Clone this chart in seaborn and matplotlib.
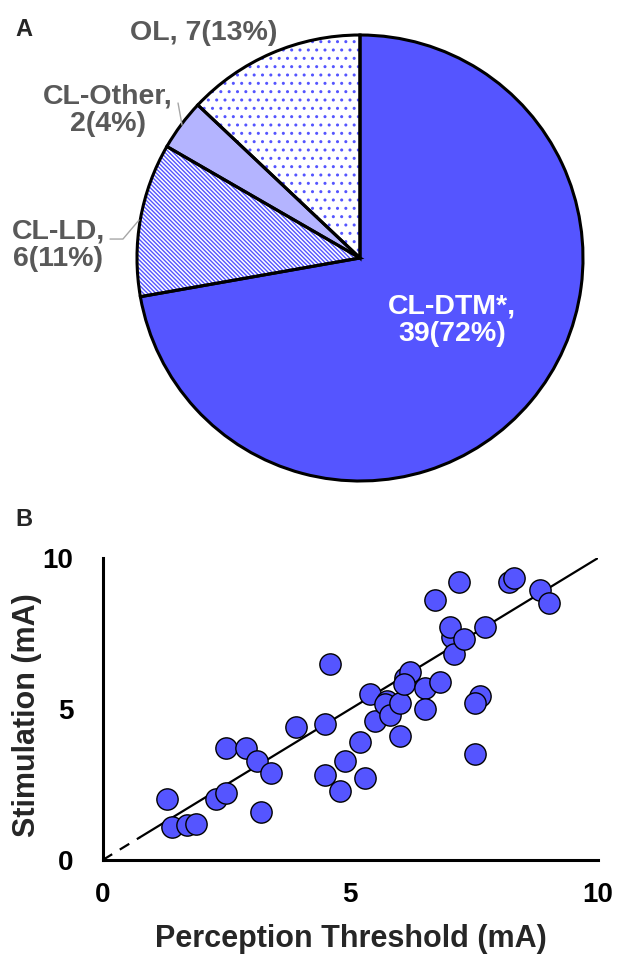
import matplotlib
matplotlib.use("Agg")

import pandas as pd
import matplotlib.pyplot as plt
import seaborn as sns

# ============================================================
# Data
# ============================================================

GROUPS = ["CL-DTM*", "CL-LD", "CL-Other", "OL"]
COUNTS = [39, 6, 2, 7]

PERCEPTION = [
    1.29, 1.39, 1.70, 1.88, 2.29, 2.49, 2.49, 2.89, 3.11, 3.19,
    3.40, 3.90, 4.49, 4.59, 4.49, 4.79, 4.89, 5.20, 5.30, 5.40,
    5.50, 5.75, 5.70, 5.80, 6.01, 6.01, 6.11, 6.21, 6.09, 6.50,
    6.51, 6.81, 6.71, 7.05, 7.02, 7.10, 7.20, 7.30, 7.71, 7.61,
    7.51, 7.51, 8.21, 8.31, 8.82, 9.02,
]
STIMULATION = [
    2.01, 1.08, 1.16, 1.19, 2.01, 2.23, 3.70, 3.70, 3.29, 1.60,
    2.89, 4.39, 4.50, 6.49, 2.81, 2.30, 3.29, 3.90, 2.70, 5.50,
    4.60, 5.25, 5.17, 4.80, 5.21, 4.11, 6.02, 6.24, 5.82, 5.68,
    4.99, 5.90, 8.61, 7.40, 7.73, 6.82, 9.22, 7.32, 7.70, 5.43,
    5.19, 3.51, 9.22, 9.33, 8.94, 8.50,
]

# fitted line: dashed extrapolation to the origin, solid over the data
FIT_DASH_X = [0.0, 0.75]
FIT_DASH_Y = [0.0, 0.75]
FIT_SOLID_X = [0.75, 10.0]
FIT_SOLID_Y = [0.75, 10.0]

AXIS_TICKS = [0, 5, 10]

# ============================================================
# Style
# ============================================================

BLUE = "#5555FF"
LIGHT_BLUE = "#B4B4FF"
GRAY_TEXT = "#595959"
GRAY_LINE = "#A6A6A6"

sns.set_style("white")
plt.rcParams["font.family"] = ["Liberation Sans", "DejaVu Sans"]
plt.rcParams["font.weight"] = "bold"
plt.rcParams["hatch.linewidth"] = 1.0

fig = plt.figure(figsize=(6.17, 9.57), dpi=100)

# ============================================================
# Panel A: pie
# ============================================================

ax_pie = fig.add_axes([137 / 617, 1 - 481 / 957, 446 / 617, 446 / 957])

fills = [BLUE, "white", LIGHT_BLUE, "white"]
hatches = [None, "\\" * 8, None, ".."]

wedges, _ = ax_pie.pie(
    COUNTS,
    startangle=90,
    counterclock=False,
    colors=fills,
    wedgeprops=dict(linewidth=0, edgecolor=BLUE),
)
for w, h in zip(wedges, hatches):
    w.set_clip_on(False)
    if h:
        w.set_hatch(h)

outline, _ = ax_pie.pie(
    COUNTS,
    startangle=90,
    counterclock=False,
    wedgeprops=dict(linewidth=2.2, edgecolor="black", fill=False),
)
for w in outline:
    w.set_clip_on(False)

ax_pie.set_xlim(-1, 1)
ax_pie.set_ylim(-1, 1)

total = sum(COUNTS)
label_pos = [(0.413, -0.280), (-1.354, 0.058), (-1.130, 0.664), (-0.700, 1.010)]
label_sep = [",\n", ",\n", ",\n", ", "]
label_col = ["white", GRAY_TEXT, GRAY_TEXT, GRAY_TEXT]

for name, n, (lx, ly), sep, col in zip(GROUPS, COUNTS, label_pos, label_sep, label_col):
    pct = round(n / total * 100)
    ax_pie.text(
        lx, ly,
        f"{name}{sep}{n}({pct}%)",
        ha="center",
        va="center",
        fontsize=20.5,
        fontweight="bold",
        color=col,
        linespacing=1.08,
    )

# leader lines
ax_pie.plot([-0.816, -0.798], [0.695, 0.596], color=GRAY_LINE, lw=1, clip_on=False)
ax_pie.plot([-1.121, -1.063, -0.991], [0.085, 0.085, 0.170], color=GRAY_LINE, lw=1, clip_on=False)

# ============================================================
# Panel B: scatter
# ============================================================

ax = fig.add_axes([102.7 / 617, 1 - 860 / 957, 495.3 / 617, 302 / 957])

df = pd.DataFrame({"perception": PERCEPTION, "stimulation": STIMULATION})

ax.plot(FIT_DASH_X, FIT_DASH_Y, color="black", lw=1.6, linestyle=(0, (5, 4)), zorder=2)
ax.plot(FIT_SOLID_X, FIT_SOLID_Y, color="black", lw=1.6, zorder=2)

sns.scatterplot(
    data=df,
    x="perception",
    y="stimulation",
    color=BLUE,
    edgecolor="black",
    linewidth=1.0,
    s=235,
    ax=ax,
    zorder=3,
    clip_on=False,
)

ax.set_xlim(0, 10)
ax.set_ylim(0, 10)
ax.set_xticks(AXIS_TICKS)
ax.set_yticks(AXIS_TICKS)

sns.despine(ax=ax)
for side in ["left", "bottom"]:
    ax.spines[side].set_linewidth(2.2)
    ax.spines[side].set_color("black")

ax.tick_params(length=0, labelsize=20, labelcolor="black")
ax.tick_params(axis="x", pad=16)
ax.tick_params(axis="y", pad=21)

ax.set_xlabel("Perception Threshold (mA)", fontsize=22, fontweight="bold")
ax.set_ylabel("Stimulation (mA)", fontsize=22, fontweight="bold")
ax.xaxis.set_label_coords(0.501, -0.212)
ax.yaxis.set_label_coords(-0.1226, 0.48)

# panel letters
fig.text(24 / 617, 1 - 30 / 957, "A", ha="center", va="center", fontsize=17, fontweight="bold")
fig.text(24 / 617, 1 - 519 / 957, "B", ha="center", va="center", fontsize=17, fontweight="bold")

fig.savefig("out.png", dpi=100)
